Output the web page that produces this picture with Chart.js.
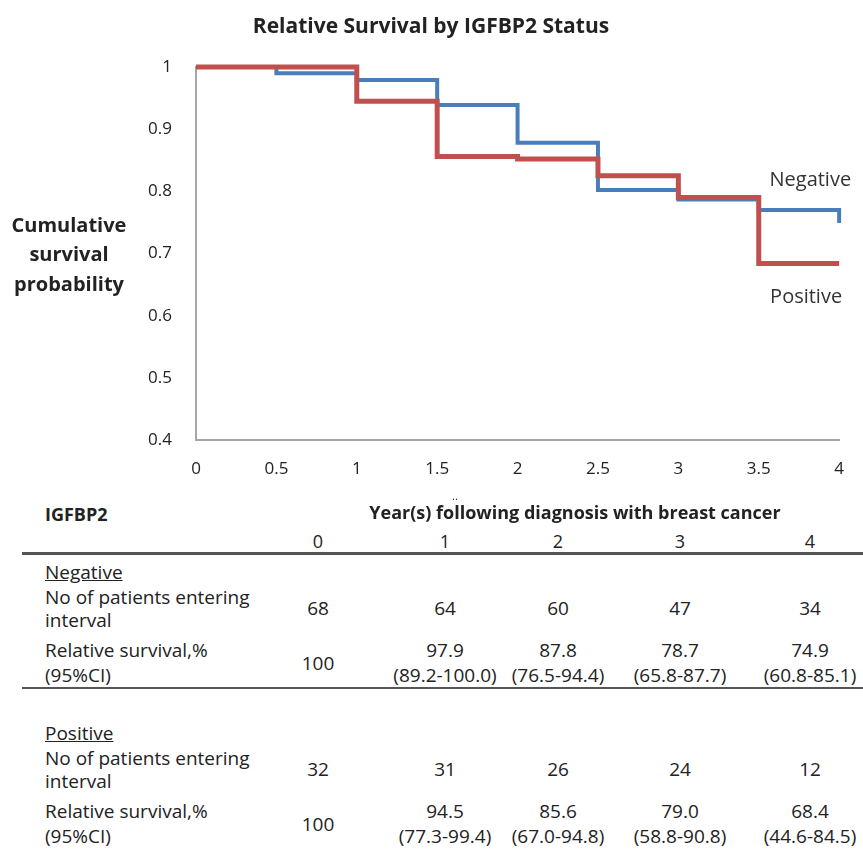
<!DOCTYPE html>
<html>
<head>
<meta charset="utf-8">
<script src="https://cdn.jsdelivr.net/npm/chart.js@4.4.0/dist/chart.umd.min.js"></script>
<style>
  html, body { margin: 0; padding: 0; background: #fff; }
  #wrap { position: relative; width: 863px; height: 867px; overflow: hidden;
          font-family: "Open Sans", Lato, "Liberation Sans", sans-serif; color: #222; }
  #chartBox { position: absolute; left: 0; top: 0; width: 863px; height: 500px; }
  .t { position: absolute; white-space: nowrap; font-size: 19px; line-height: 22px; }
  .h { font-size: 18px; }
  .ci { font-size: 19.5px; }
  .c { transform: translateX(-50%); }
  .b { font-weight: bold; }
  .u { text-decoration: underline; }
  .rule { position: absolute; left: 22px; width: 841px; background: #555; }
</style>
</head>
<body>
<div id="wrap">
  <div id="chartBox"><canvas id="km" width="863" height="500"></canvas></div>
  <div id="tbl"></div>
</div>
<script>
// Kaplan-Meier style step curves (time in years, cumulative survival)
const negTimes = [0, 0.5, 1, 1.5, 2, 2.5, 3, 3.5, 4];
const negProb  = [1, 0.990, 0.979, 0.939, 0.878, 0.802, 0.787, 0.770, 0.749];
const posTimes = [0, 1, 1.5, 2, 2.5, 3, 3.5, 4];
const posProb  = [1, 0.945, 0.856, 0.852, 0.825, 0.790, 0.684, 0.684];

// Life table below the plot
const tableYears   = ['0', '1', '2', '3', '4'];
const negAtRisk    = ['68', '64', '60', '47', '34'];
const negSurvival  = ['100', '97.9', '87.8', '78.7', '74.9'];
const negCI        = ['', '(89.2-100.0)', '(76.5-94.4)', '(65.8-87.7)', '(60.8-85.1)'];
const posAtRisk    = ['32', '31', '26', '24', '12'];
const posSurvival  = ['100', '94.5', '85.6', '79.0', '68.4'];
const posCI        = ['', '(77.3-99.4)', '(67.0-94.8)', '(58.8-90.8)', '(44.6-84.5)'];

const FONT = '"Open Sans", Lato, "Liberation Sans", sans-serif';

const toPoints = (xs, ys) => xs.map((x, i) => ({ x: x, y: ys[i] }));

// Title, stacked y-axis caption and end-of-curve labels
const labelsPlugin = {
  id: 'kmLabels',
  afterDraw(chart) {
    const c = chart.ctx;
    const area = chart.chartArea;
    const y = chart.scales.y;
    c.save();
    c.fillStyle = '#222';
    c.textBaseline = 'middle';
    c.textAlign = 'center';
    c.font = 'bold 21px ' + FONT;
    c.fillText('Relative Survival by IGFBP2 Status', 431, 27);
    c.font = 'bold 20px ' + FONT;
    c.fillText('Cumulative', 69, 226);
    c.fillText('survival', 69, 255);
    c.fillText('probability', 69, 285);
    c.font = '20px ' + FONT;
    c.fillStyle = '#333';
    c.textAlign = 'right';
    c.fillText('Negative', area.right + 12, y.getPixelForValue(0.817));
    c.fillText('Positive', area.right + 3, y.getPixelForValue(0.629));
    c.restore();
  }
};

new Chart(document.getElementById('km'), {
  type: 'line',
  data: {
    datasets: [
      { label: 'Positive', data: toPoints(posTimes, posProb), borderColor: '#C0504D',
        borderWidth: 5, stepped: true, pointRadius: 0, fill: false, clip: 8 },
      { label: 'Negative', data: toPoints(negTimes, negProb), borderColor: '#4A7EBB',
        borderWidth: 4, stepped: true, pointRadius: 0, fill: false, clip: 8 }
    ]
  },
  options: {
    responsive: false,
    animation: false,
    devicePixelRatio: 1,
    layout: { padding: { top: 67, right: 18, left: 0, bottom: 0 } },
    plugins: { legend: { display: false }, title: { display: false }, tooltip: { enabled: false } },
    scales: {
      x: {
        type: 'linear', min: 0, max: 4,
        grid: { display: false, drawTicks: false },
        border: { display: true, color: '#a6a6a6', width: 2 },
        ticks: { stepSize: 0.5, padding: 19, color: '#222', font: { family: FONT, size: 17 },
                 callback: v => String(Math.round(v * 10) / 10) },
        afterFit: s => { s.height = 60; }
      },
      y: {
        min: 0.4, max: 1,
        grid: { display: false, drawTicks: false },
        border: { display: true, color: '#a6a6a6', width: 2 },
        ticks: { stepSize: 0.1, padding: 24, color: '#222', font: { family: FONT, size: 17 },
                 callback: v => String(Math.round(v * 10) / 10) },
        afterFit: s => { s.width = 196; }
      }
    }
  },
  plugins: [labelsPlugin]
});

// Build the life table as positioned text
const tbl = document.getElementById('tbl');
const colX = [318, 445, 558, 680, 810];
function put(text, x, yMid, cls, centered) {
  const d = document.createElement('div');
  d.className = 't' + (cls ? ' ' + cls : '') + (centered ? ' c' : '');
  d.textContent = text;
  d.style.left = x + 'px';
  d.style.top = (yMid - 11) + 'px';
  tbl.appendChild(d);
}
function rule(y, h) {
  const d = document.createElement('div');
  d.className = 'rule';
  d.style.top = y + 'px';
  d.style.height = h + 'px';
  tbl.appendChild(d);
}

const dots = document.createElement('div');
dots.className = 't c';
dots.style.cssText = 'left:455px;top:490px;font-size:11px;line-height:12px;';
dots.textContent = '..';
tbl.appendChild(dots);

put('IGFBP2', 45, 514, 'b h', false);
put('Year(s) following diagnosis with breast cancer', 575, 512, 'b h', true);
tableYears.forEach((t, i) => put(t, colX[i], 541, 'h', true));
rule(552, 3);

function block(name, top, atRisk, surv, ci) {
  put(name, 45, top, 'u', false);
  put('No of patients entering', 45, top + 25, '', false);
  put('interval', 45, top + 48, '', false);
  atRisk.forEach((v, i) => put(v, colX[i], top + 36, '', true));
  put('Relative survival,%', 45, top + 78, '', false);
  put('(95%CI)', 45, top + 103, '', false);
  surv.forEach((v, i) => {
    if (ci[i]) {
      put(v, colX[i], top + 78, '', true);
      put(ci[i], colX[i], top + 103, '', true);
    } else {
      put(v, colX[i], top + 91, '', true);
    }
  });
}
block('Negative', 572, negAtRisk, negSurvival, negCI);
rule(687, 2);
block('Positive', 733, posAtRisk, posSurvival, posCI);
</script>
</body>
</html>
